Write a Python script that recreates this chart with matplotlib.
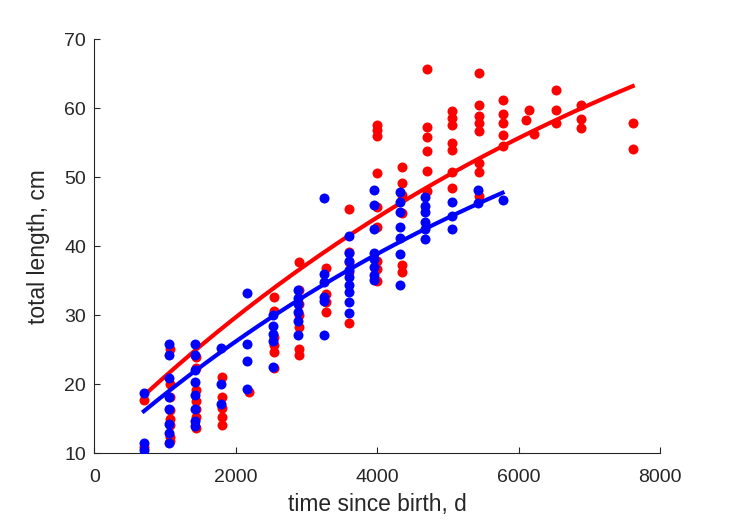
import numpy as np
import matplotlib
matplotlib.use("Agg")
import matplotlib.pyplot as plt

plt.rcParams['font.family'] = ['Liberation Sans', 'DejaVu Sans']

# ---- data ----
blue_x = ([700] * 3 + [1060] * 8 + [1420] * 8 + [1790] * 3 + [2160] * 4 +
          [2520] * 5 + [2880] * 6 + [3240] * 6 + [3600] * 9 + [3960] * 8 +
          [4320] * 7 + [4680] * 6 + [5050] * 3 + [5420] * 2 + [5770])
blue_y = [18.8, 11.5, 10.5,
          25.8, 24.2, 20.9, 18.2, 16.4, 14.2, 12.9, 11.5,
          25.8, 24.3, 22.1, 20.3, 18.5, 16.4, 14.7, 14.0,
          25.3, 20.1, 17.2,
          33.2, 25.8, 23.4, 19.3,
          30.1, 28.4, 27.3, 26.2, 22.5,
          33.6, 32.5, 31.6, 30.5, 29.2, 27.1,
          47.0, 36.0, 34.85, 32.7, 32.0, 27.2,
          41.4, 39.0, 37.8, 36.6, 35.5, 34.4, 33.3, 31.85, 30.3,
          48.1, 45.95, 42.45, 39.05, 38.2, 37.0, 35.8, 35.1,
          47.9, 46.4, 45.0, 42.8, 41.2, 38.8, 34.4,
          47.1, 45.8, 44.9, 43.55, 42.45, 41.0,
          46.45, 44.3, 42.5,
          48.2, 46.2,
          46.7]

red_x = ([700] * 2 + [1075] * 8 + [1440] * 7 + [1810] * 5 + [2190] +
         [2540] * 6 + [2900] * 7 + [3270] * 4 + [3600] * 5 + [3990] * 9 +
         [4350] * 6 + [4700] * 6 + [5050] * 7 + [5440] * 8 + [5770] * 5 +
         [6100, 6150, 6220] + [6520] * 3 + [6880] * 3 + [7610] * 2)
red_y = [17.7, 10.9,
         25.1, 20.0, 18.2, 16.2, 14.9, 14.1, 12.4, 11.8,
         23.9, 22.4, 19.2, 17.6, 16.4, 15.2, 13.7,
         21.1, 18.2, 16.5, 15.2, 14.05,
         18.9,
         32.6, 30.6, 26.8, 25.7, 24.7, 22.4,
         37.75, 33.6, 31.6, 30.0, 28.25, 25.1, 24.2,
         36.8, 33.1, 31.9, 30.4,
         45.4, 39.1, 37.7, 36.3, 28.8,
         57.55, 56.8, 55.95, 50.55, 45.7, 42.8, 37.8, 36.7, 35.0,
         51.4, 49.2, 47.4, 44.85, 37.3, 36.3,
         65.6, 57.3, 55.8, 53.8, 50.9, 48.0,
         59.6, 58.5, 57.55, 55.0, 53.9, 50.8, 48.4,
         65.1, 60.45, 58.85, 57.9, 56.7, 52.1, 50.8, 47.3,
         61.2, 59.2, 57.9, 56.1, 54.5,
         58.2, 59.7, 56.3,
         62.6, 59.75, 57.9,
         60.5, 58.4, 57.05,
         57.8, 54.05]

# von Bertalanffy growth curves: [L_inf (cm), k (1/d), t0 (d)]
red_fit = [100.1, 1.15e-4, -1062.0]
blue_fit = [83.5, 1.25e-4, -1013.0]

x_ticks = [0, 2000, 4000, 6000, 8000]
y_ticks = [10, 20, 30, 40, 50, 60, 70]
x_label = 'time since birth, d'
y_label = 'total length, cm'

# ---- figure ----
W, H = 729, 521
fig = plt.figure(figsize=(W / 100, H / 100), dpi=100)
ax = fig.add_axes([94.3 / W, (H - 453.3) / H, (660.3 - 94.3) / W, (453.3 - 39) / H])


def vb_curve(x, params):
    linf, k, t0 = params
    xs = np.linspace(min(x), max(x), 300)
    return xs, linf * (1.0 - np.exp(-k * (xs - t0)))


ms = 7.2
ax.plot(red_x, red_y, 'o', color=(1, 0, 0), ms=ms, mec='none', zorder=2)
rx, ry = vb_curve(red_x, red_fit)
ax.plot(rx, ry, '-', color=(1, 0, 0), lw=3, zorder=3)
ax.plot(blue_x, blue_y, 'o', color=(0, 0, 1), ms=ms, mec='none', zorder=4)
bx, by = vb_curve(blue_x, blue_fit)
ax.plot(bx, by, '-', color=(0, 0, 1), lw=3, zorder=5)

ax.set_xlim(0, 8000)
ax.set_ylim(10, 70)
ax.set_xticks(x_ticks)
ax.set_yticks(y_ticks)

axc = (0.15, 0.15, 0.15)
for s in ['top', 'right']:
    ax.spines[s].set_visible(False)
for s in ['left', 'bottom']:
    ax.spines[s].set_color(axc)
    ax.spines[s].set_linewidth(0.8)
ax.tick_params(direction='in', length=4, width=0.8, color=axc,
               labelcolor=axc, labelsize=14)
ax.tick_params(axis='x', pad=11)
ax.tick_params(axis='y', pad=6)
ax.set_xlabel(x_label, fontsize=16.4, color=axc, labelpad=5)
ax.set_ylabel(y_label, fontsize=16.4, color=axc, labelpad=10)

fig.savefig('out.png', dpi=100)
